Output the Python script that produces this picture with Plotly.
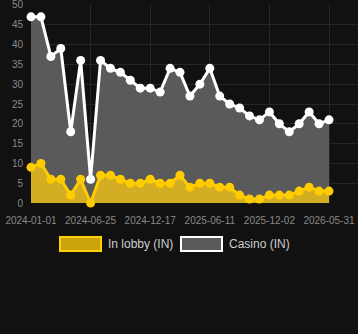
import plotly.graph_objects as go

dates = [
    "2024-01-01", "2024-01-30", "2024-02-29", "2024-03-29", "2024-04-27", "2024-05-27",
    "2024-06-25", "2024-07-24", "2024-08-23", "2024-09-21", "2024-10-20", "2024-11-18",
    "2024-12-17", "2025-01-15", "2025-02-14", "2025-03-15", "2025-04-13", "2025-05-13",
    "2025-06-11", "2025-07-10", "2025-08-08", "2025-09-06", "2025-10-05", "2025-11-03",
    "2025-12-02", "2026-01-01", "2026-01-31", "2026-03-02", "2026-04-01", "2026-05-01",
    "2026-05-31",
]
casino = [47, 47, 37, 39, 18, 36, 6, 36, 34, 33, 31, 29, 29, 28, 34, 33, 27, 30, 34, 27,
          25, 24, 22, 21, 23, 20, 18, 20, 23, 20, 21]
lobby = [9, 10, 6, 6, 2, 6, 0, 7, 7, 6, 5, 5, 6, 5, 5, 7, 4, 5, 5, 4,
         4, 2, 1, 1, 2, 2, 2, 3, 4, 3, 3]
tick_labels = ["2024-01-01", "2024-06-25", "2024-12-17", "2025-06-11", "2025-12-02", "2026-05-31"]
y_ticks = [0, 5, 10, 15, 20, 25, 30, 35, 40, 45, 50]
names = ["In lobby (IN)", "Casino (IN)"]

W, H = 358, 334
L, R, T, B = 31, 0, 4, 131
pw, ph = W - L - R, H - T - B

BG = "#111111"
GRID = "#262626"
FONT = "Liberation Sans, Arial, sans-serif"

fig = go.Figure()
fig.add_trace(go.Scatter(
    x=dates, y=casino, name=names[1], mode="lines+markers",
    fill="tozeroy", fillcolor="#5a5a5a",
    line=dict(color="#ffffff", width=3),
    marker=dict(color="#ffffff", size=9),
    cliponaxis=False, showlegend=False,
))
fig.add_trace(go.Scatter(
    x=dates, y=lobby, name=names[0], mode="lines+markers",
    fill="tozeroy", fillcolor="#d4ae22",
    line=dict(color="#ffcc00", width=3),
    marker=dict(color="#ffcc00", size=9),
    cliponaxis=False, showlegend=False,
))

def px_x(p):
    return (p - L) / pw

def px_y(p):
    return (H - B - p) / ph

shapes = [
    dict(type="rect", xref="paper", yref="paper",
         x0=px_x(60), x1=px_x(101), y0=px_y(251), y1=px_y(237),
         fillcolor="#c9a20c", line=dict(color="#ffd000", width=2)),
    dict(type="rect", xref="paper", yref="paper",
         x0=px_x(181), x1=px_x(222), y0=px_y(251), y1=px_y(237),
         fillcolor="#5a5a5a", line=dict(color="#ffffff", width=2)),
]
annotations = [
    dict(text=names[0], xref="paper", yref="paper", x=px_x(106), y=px_y(244),
         xanchor="left", yanchor="middle", showarrow=False,
         font=dict(family=FONT, size=12, color="#cccccc")),
    dict(text=names[1], xref="paper", yref="paper", x=px_x(227), y=px_y(244),
         xanchor="left", yanchor="middle", showarrow=False,
         font=dict(family=FONT, size=12, color="#cccccc")),
]

span = (329 - 31) / 30.0
fig.update_layout(
    width=W, height=H,
    margin=dict(l=L, r=R, t=T, b=B, pad=0),
    paper_bgcolor=BG, plot_bgcolor=BG,
    showlegend=False,
    shapes=shapes, annotations=annotations,
    xaxis=dict(
        type="category", range=[0, (W - R - L) / span],
        tickmode="array", tickvals=tick_labels, ticktext=tick_labels,
        showgrid=True, gridcolor=GRID, gridwidth=1,
        zeroline=False, showline=False, ticks="",
        tickfont=dict(family=FONT, size=10, color="#8a8a8a"),
        ticklabelstandoff=10, ticklabeloverflow="allow",
    ),
    yaxis=dict(
        range=[0, 50.25], tickmode="array", tickvals=y_ticks,
        showgrid=True, gridcolor=GRID, gridwidth=1,
        zeroline=False, showline=False, ticks="",
        tickfont=dict(family=FONT, size=10, color="#8a8a8a"),
        ticklabelstandoff=7, ticklabeloverflow="allow",
    ),
)

fig.write_html("out.html")
